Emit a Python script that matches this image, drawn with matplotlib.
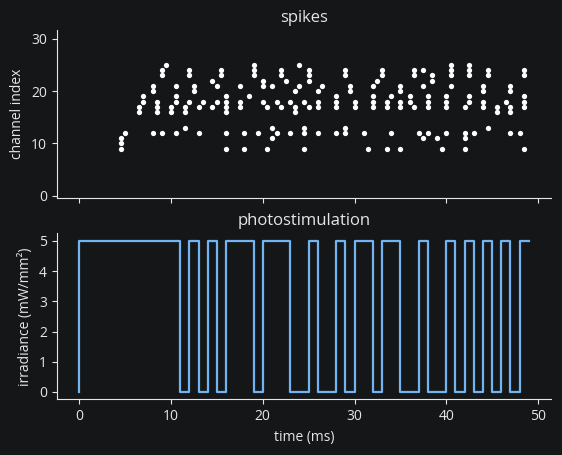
import numpy as np
import matplotlib
matplotlib.use("Agg")
import matplotlib.pyplot as plt

# spike raster: time (ms) -> channel indices
spike_times = [4.5, 5.0, 6.5, 7.0, 8.0, 8.5, 9.0, 9.5, 10.0, 10.5,
               11.5, 12.0, 12.5, 13.0, 13.5, 14.5, 15.0, 15.5, 16.0, 17.5,
               18.0, 18.5, 19.0, 19.5, 20.0, 20.5, 21.0, 21.5, 22.0, 22.5,
               23.0, 23.5, 24.0, 24.5, 25.0, 26.0, 26.5, 28.0, 29.0, 29.5,
               30.0, 31.0, 31.5, 32.0, 32.5, 33.0, 33.5, 34.0, 35.0, 36.0,
               36.5, 37.0, 37.5, 38.0, 38.5, 39.0, 39.5, 40.0, 40.5, 42.0,
               42.5, 43.0, 44.0, 44.5, 45.5, 46.5, 47.0, 48.0, 48.5]
spike_channels = [[9, 10, 11], [12], [16, 17], [18, 19], [12, 20, 21],
                  [16, 17, 18], [12, 23, 24], [25], [16, 17], [12, 18, 19, 21],
                  [13, 16, 17], [18, 23, 24], [20, 21], [12, 17], [18],
                  [17, 22], [18, 21], [23, 24], [9, 12, 16, 17, 18, 19], [17, 18, 21],
                  [9, 12], [19], [23, 24, 25], [12], [18, 21, 22],
                  [9, 17], [11, 13, 21], [12, 18], [17, 23, 24], [22],
                  [12, 18], [16, 17, 20], [21, 25], [9, 12, 13, 18], [17, 22, 23, 24],
                  [12, 17, 18, 20], [21], [12, 17, 18, 19], [12, 13, 23, 24], [20, 21],
                  [17, 18], [12], [9], [17, 18, 19, 21], [22],
                  [23, 24], [9, 17, 18], [12, 19], [9, 17, 18, 20, 21], [18, 19],
                  [17, 23, 24], [12], [11, 21, 24], [12, 17, 18, 19], [22, 23],
                  [11], [9], [12, 17, 18, 19], [21, 23, 24, 25], [9, 11, 12, 17],
                  [18, 19, 23, 24, 25], [12], [17, 18, 20, 21], [13, 23, 24], [16, 17],
                  [18], [12, 16, 17, 20, 21], [12], [9, 17, 18, 19, 23, 24]]

# photostimulation, one value per ms
t_stim = np.arange(50)
irradiance = [0,
              5, 5, 5, 5, 5, 5, 5, 5, 5, 5, 5, 0, 5, 0, 5, 0, 5, 5, 5, 0,
              5, 5, 5, 0, 0, 5, 0, 0, 5, 0, 5, 5, 0, 5, 5, 0, 0, 5, 0, 0,
              5, 0, 5, 0, 5, 0, 5, 0, 5]

bg = "#151618"
fg = "#e6e6e6"

plt.rcParams["font.family"] = ["Open Sans", "DejaVu Sans"]
plt.rcParams["text.color"] = fg
plt.rcParams["axes.labelcolor"] = fg
plt.rcParams["xtick.color"] = fg
plt.rcParams["ytick.color"] = fg
plt.rcParams["axes.edgecolor"] = fg

fig = plt.figure(figsize=(5.62, 4.55), dpi=100, facecolor=bg)
ax1 = fig.add_axes([0.101, 0.565, 0.88, 0.369])
ax2 = fig.add_axes([0.101, 0.122, 0.88, 0.365], sharex=ax1)

xs, ys = [], []
for t, chans in zip(spike_times, spike_channels):
    for c in chans:
        xs.append(t)
        ys.append(c)
ax1.plot(xs, ys, "o", color="white", markersize=3.8, markeredgewidth=0)
ax1.set_ylim(-0.45, 31.7)
ax1.set_yticks([0, 10, 20, 30])
ax1.set_ylabel("channel index", fontsize=10)
ax1.set_title("spikes", fontsize=12, color=fg)
ax1.tick_params(labelbottom=False)

ax2.step(t_stim, irradiance, where="pre", color="#72b4f2", lw=1.6)
ax2.set_yticks([0, 1, 2, 3, 4, 5])
ax2.set_ylabel("irradiance (mW/mm²)", fontsize=10)
ax2.set_xlabel("time (ms)", fontsize=10)
ax2.set_title("photostimulation", fontsize=12, color=fg)
ax2.set_xticks([0, 10, 20, 30, 40, 50])

for ax in (ax1, ax2):
    ax.set_facecolor(bg)
    ax.spines["top"].set_visible(False)
    ax.spines["right"].set_visible(False)
    ax.tick_params(labelsize=10)

fig.savefig("out.png", dpi=100, facecolor=bg)
